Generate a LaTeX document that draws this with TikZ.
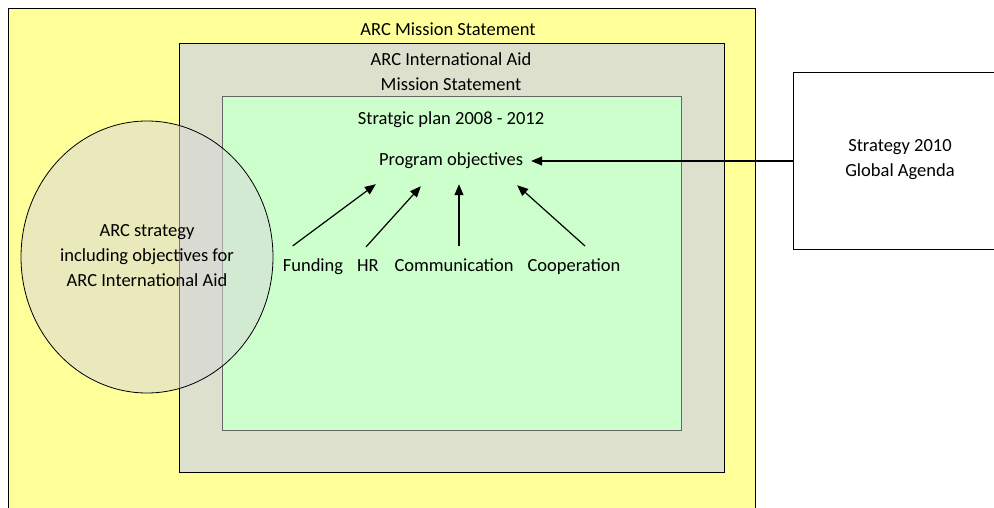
\documentclass[tikz,border=0pt]{standalone}
\usepackage{fontspec}
\setmainfont{Carlito}
\usetikzlibrary{arrows.meta,calc}
\definecolor{outeryellow}{RGB}{255,255,153}
\definecolor{aidgray}{RGB}{221,224,204}
\definecolor{plangreen}{RGB}{204,255,204}
\definecolor{circfill}{RGB}{215,215,215}
\tikzset{
  lbl/.style={font=\fontsize{18.5}{25}\selectfont, inner sep=0pt, align=center},
  arr/.style={line width=1.2pt, -{Triangle[length=11pt,width=9pt]}},
  boxline/.style={line width=1pt, draw=black}
}
\begin{document}
\begin{tikzpicture}[x=1pt,y=-1pt]
\useasboundingbox (0,0) rectangle (994,508);
\fill[white] (0,0) rectangle (994,508);
% boxes
\draw[boxline, fill=outeryellow] (8,9) rectangle (755,520);
\draw[boxline, fill=aidgray] (179,44) rectangle (724,472);
\draw[line width=1pt, draw=black!60, fill=plangreen] (222,97) rectangle (681,430);
% circle
\draw[line width=0.8pt, fill=circfill, fill opacity=0.55] (147,257) ellipse [x radius=126, y radius=136];
% strategy box
\node[boxline, fill=white, minimum width=216pt, minimum height=176pt, anchor=west, inner sep=0pt] (strat) at (793,161) {};
% texts
\node[lbl] (mission) at (448,29) {ARC Mission Statement};
\node[lbl] (aid) at (451,72) {ARC International Aid\\Mission Statement};
\node[lbl] (plan) at (451,120) {Stratgic plan 2008 - 2012};
\node[lbl] (prog) at (451,161) {Program objectives};
\node[lbl, anchor=base] (fund) at (313,271) {Funding};
\node[lbl, anchor=base] (hr) at (368,271) {HR};
\node[lbl, anchor=base] (comm) at (454,271) {Communication};
\node[lbl, anchor=base] (coop) at (574,271) {Cooperation};
\node[lbl] (circ) at (147,256) {ARC strategy\\including objectives for\\ARC International Aid};
\node[lbl] (strattext) at (900,160) {Strategy 2010\\Global Agenda};
% arrows
\draw[arr] ($(fund.north west)+(10,-12)$) -- ($(prog.south west)+(-3,15)$);
\draw[arr] ($(hr.north)+(-2,-12)$) -- ($(prog.south west)+(42,17)$);
\draw[arr] ($(comm.north)+(5,-12)$) -- ($(prog.south)+(8,15)$);
\draw[arr] ($(coop.north)+(11,-12)$) -- ($(prog.south east)+(-6,16)$);
\draw[arr] (strat.west) -- ($(prog.east)+(8,0)$);
\end{tikzpicture}
\end{document}
